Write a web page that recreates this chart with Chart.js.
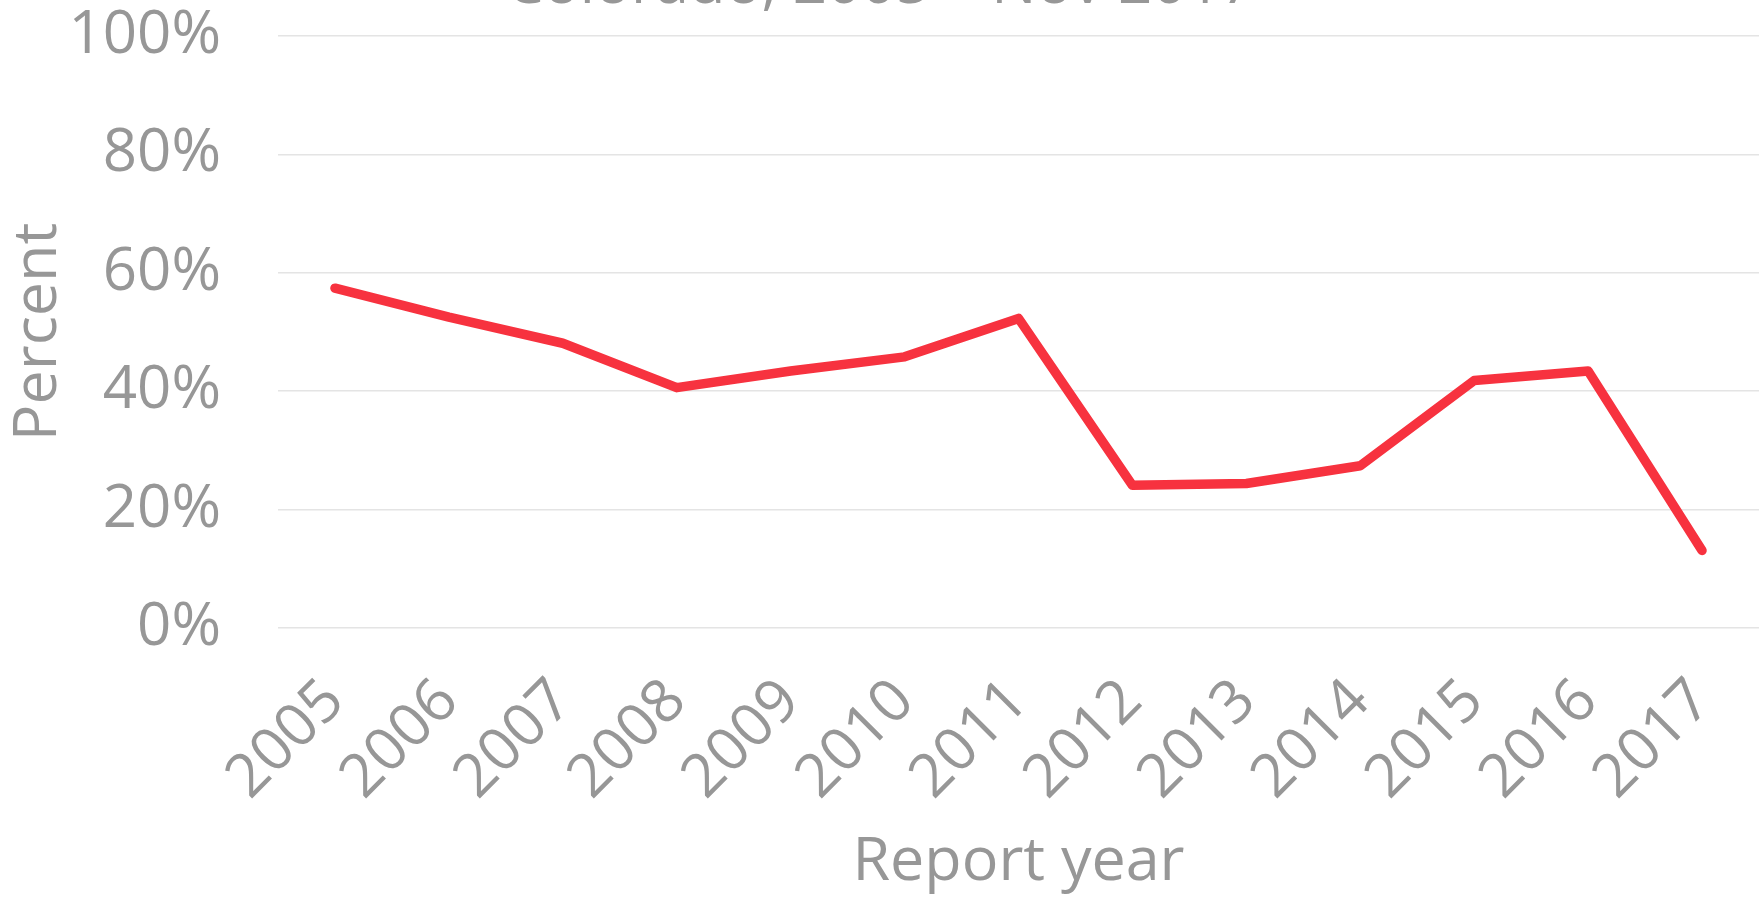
<!DOCTYPE html>
<html>
<head>
<meta charset="utf-8">
<title>Report year chart</title>
<script src="https://cdn.jsdelivr.net/npm/chart.js@4"></script>
<style>
  html, body { margin: 0; padding: 0; background: #fff; overflow: hidden; }
  /* title sits partly above the window, like in the original screenshot */
  #wrap { position: absolute; left: 0; top: -50px; width: 1764px; height: 949px; }
</style>
</head>
<body>
<div id="wrap"><canvas id="chart"></canvas></div>
<script>
// Data
const years = ['2005', '2006', '2007', '2008', '2009', '2010', '2011', '2012', '2013', '2014', '2015', '2016', '2017'];
const percentValues = [57.4, 52.5, 48.1, 40.6, 43.4, 45.8, 52.3, 24.1, 24.4, 27.4, 41.8, 43.4, 13.1];
const yTicks = [0, 20, 40, 60, 80, 100];
const chartTitle = 'Colorado, 2005 \u2013 Nov 2017';
const xTitle = 'Report year';
const yTitle = 'Percent';

const grey = '#979797';
const fontName = '"Open Sans", sans-serif';

function drawChart() {
  const ctx = document.getElementById('chart').getContext('2d');

  new Chart(ctx, {
    type: 'line',
    data: {
      labels: years,
      datasets: [{
        label: yTitle,
        data: percentValues,
        borderColor: '#f7323f',
        backgroundColor: '#f7323f',
        borderWidth: 9.5,
        borderCapStyle: 'round',
        borderJoinStyle: 'round',
        pointRadius: 0,
        tension: 0,
        fill: false
      }]
    },
    options: {
      responsive: true,
      maintainAspectRatio: false,
      animation: false,
      devicePixelRatio: 1,
      layout: { padding: { left: 2, right: 5, top: 0, bottom: 0 } },
      plugins: {
        legend: { display: false },
        tooltip: { enabled: false },
        title: {
          display: true,
          text: chartTitle,
          color: grey,
          font: { family: fontName, size: 60, weight: 'normal' },
          padding: { top: 0, bottom: 14 }
        }
      },
      scales: {
        x: {
          offset: true,
          grid: { display: false, drawTicks: false },
          border: { display: false },
          ticks: {
            color: grey,
            font: { family: fontName, size: 60 },
            maxRotation: 45,
            minRotation: 45,
            padding: 38,
            autoSkip: false
          },
          title: {
            display: true,
            text: xTitle,
            color: grey,
            font: { family: fontName, size: 61 },
            padding: { top: 0, bottom: 0 }
          },
          afterFit: axis => {
            axis.height = 271;
            axis.paddingLeft = 0;
            axis.paddingRight = 0;
          }
        },
        y: {
          min: 0,
          max: 100,
          afterBuildTicks: axis => { axis.ticks = yTicks.map(v => ({ value: v })); },
          grid: { color: '#e4e4e4', lineWidth: 1.5, drawTicks: false },
          border: { display: false },
          ticks: {
            color: grey,
            font: { family: fontName, size: 60 },
            padding: 57,
            callback: v => v + '%'
          },
          title: {
            display: true,
            text: yTitle,
            color: grey,
            font: { family: fontName, size: 61 },
            padding: { top: 0, bottom: 0 }
          },
          afterFit: axis => {
            axis.width = 276;
            axis.paddingTop = 0;
            axis.paddingBottom = 0;
          }
        }
      }
    }
  });
}

document.fonts.load('60px "Open Sans"').then(drawChart, drawChart);
</script>
</body>
</html>
